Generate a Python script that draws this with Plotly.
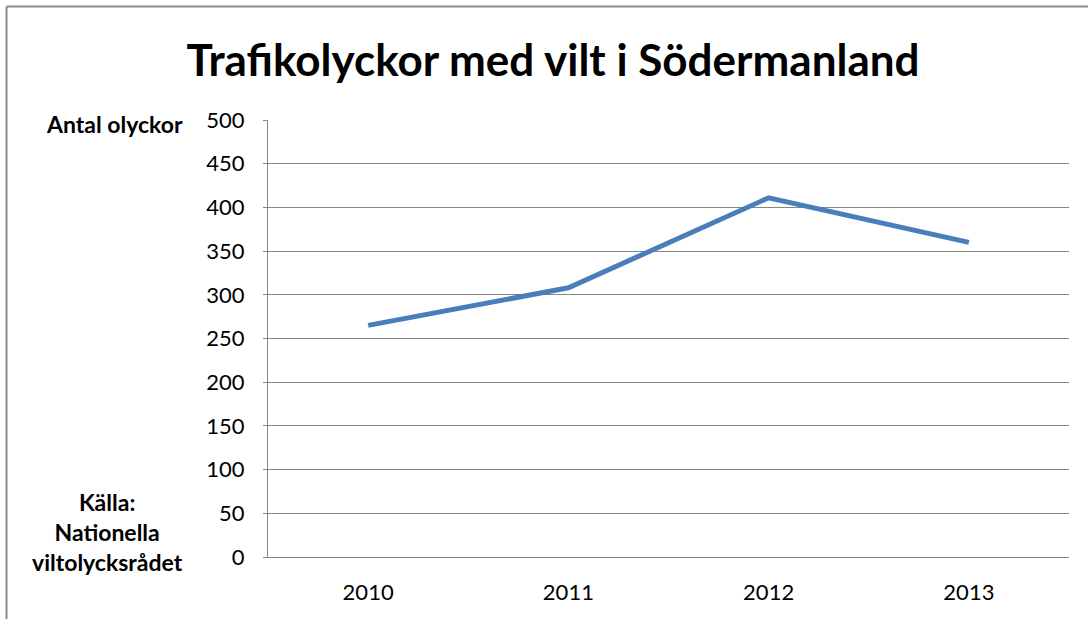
import plotly.graph_objects as go

years = ["2010", "2011", "2012", "2013"]
accidents = [265, 308, 411, 360]
y_ticks = [0, 50, 100, 150, 200, 250, 300, 350, 400, 450, 500]

title_text = "Trafikolyckor med vilt i Södermanland"
y_label = "Antal olyckor"
source_text = "Källa:<br>Nationella<br>viltolycksrådet"

W, H = 1088, 619
L, R, T, B = 268, 19, 120, 62
pw, ph = W - L - R, H - T - B

def px(x):
    return (x - L) / pw

def py(y):
    return (H - B - y) / ph

fig = go.Figure()
fig.add_trace(go.Scatter(
    x=years, y=accidents, mode="lines",
    line=dict(color="#4A7EBB", width=5),
    showlegend=False, hoverinfo="x+y",
))

grid = "#868686"
fig.update_layout(
    width=W, height=H,
    margin=dict(l=L, r=R, t=T, b=B),
    paper_bgcolor="white", plot_bgcolor="white",
    font=dict(family="Lato", color="#000000", size=22),
    title=dict(text="<b>" + title_text + "</b>", x=553 / W, xref="container",
               xanchor="center", y=1 - 61 / H, yref="container", yanchor="middle",
               font=dict(family="Lato", size=44, color="#000000")),
    xaxis=dict(type="category", range=[-0.5, 3.5], showgrid=False,
               showline=True, linecolor=grid, linewidth=1.3,
               ticks="", tickfont=dict(size=22), ticklabelstandoff=15,
               fixedrange=True),
    yaxis=dict(range=[0, 500], tickvals=y_ticks, showgrid=True,
               gridcolor=grid, gridwidth=1.3, showline=True, linecolor=grid,
               linewidth=1.3, ticks="outside", ticklen=4, tickcolor=grid,
               tickfont=dict(size=22), ticklabelstandoff=14, zeroline=False,
               fixedrange=True),
    annotations=[
        dict(text="<b>" + y_label + "</b>", xref="paper", yref="paper",
             x=px(114), y=py(124), xanchor="center", yanchor="middle",
             showarrow=False, font=dict(family="Lato", size=23)),
        dict(text="<b>" + source_text + "</b>", xref="paper", yref="paper",
             x=px(107), y=py(532), xanchor="center", yanchor="middle",
             showarrow=False, align="center",
             font=dict(family="Lato", size=23)),
    ],
    shapes=[
        dict(type="line", xref="paper", yref="paper", x0=px(6.5), x1=px(1095),
             y0=py(6.5), y1=py(6.5), line=dict(color="#8c8c8c", width=2)),
        dict(type="line", xref="paper", yref="paper", x0=px(6.5), x1=px(6.5),
             y0=py(6.5), y1=py(630), line=dict(color="#8c8c8c", width=2)),
    ],
)

fig.write_html("out.html", config={"displayModeBar": False},
               post_script="document.body.style.margin='0';document.body.style.overflow='hidden';")
